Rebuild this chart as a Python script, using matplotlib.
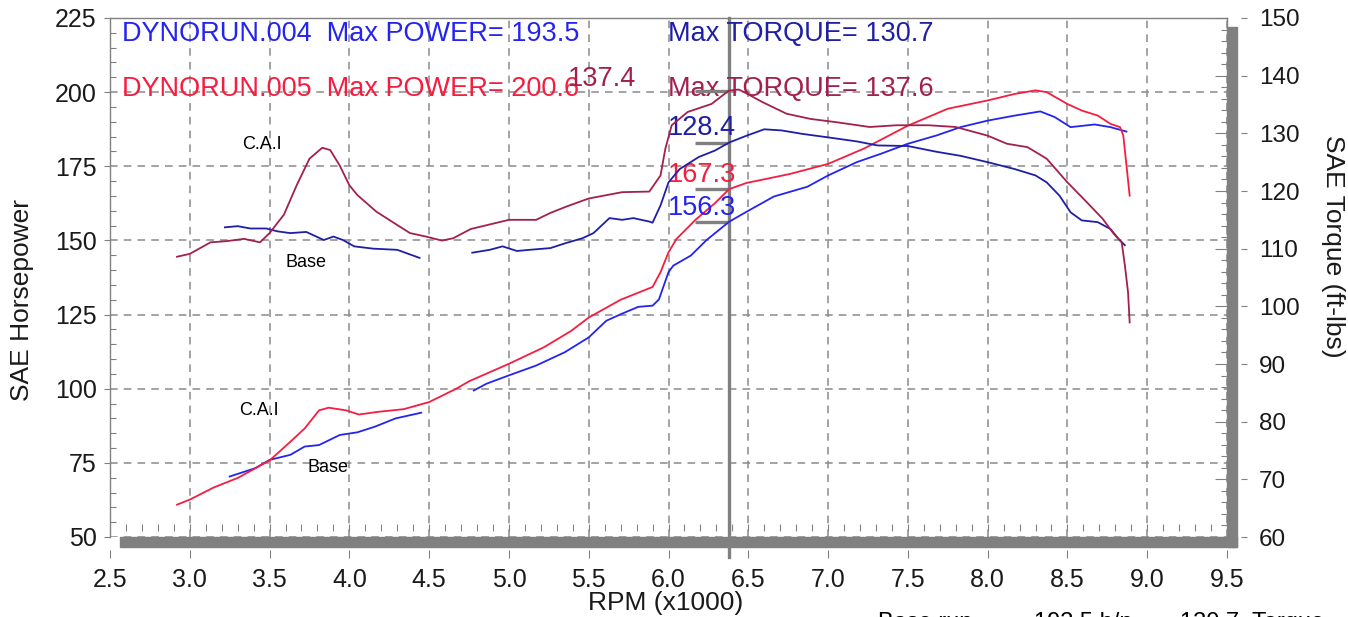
import numpy as np
import matplotlib
matplotlib.use("Agg")
import matplotlib.pyplot as plt
from matplotlib.ticker import MultipleLocator, FormatStrFormatter
from matplotlib.patches import Rectangle

plt.rcParams['font.family'] = ['Liberation Sans', 'DejaVu Sans']

# ---------------- data ----------------
# DYNORUN.005 (C.A.I) horsepower
cai_hp_rpm = [2.92, 3.00, 3.15, 3.30, 3.50, 3.63, 3.72, 3.81, 3.87, 3.98, 4.06, 4.18, 4.34, 4.50,
              4.67, 4.75, 5.00, 5.22, 5.39, 5.50, 5.70, 5.90, 5.95, 6.00, 6.05, 6.17, 6.29, 6.38,
              6.49, 6.59, 6.76, 7.00, 7.23, 7.50, 7.75, 8.00, 8.17, 8.30, 8.37, 8.50, 8.59, 8.69,
              8.77, 8.83, 8.85, 8.87, 8.89]
cai_hp = [60.9, 62.6, 66.7, 69.9, 75.8, 82.1, 86.6, 92.7, 93.6, 92.7, 91.3, 92.2, 93.1, 95.5,
          100.0, 102.5, 108.4, 114.0, 119.5, 124.0, 130.0, 134.3, 139.3, 146.0, 150.5, 157.0, 162.5, 167.3,
          169.4, 170.5, 172.4, 175.8, 181.1, 188.7, 194.4, 197.2, 199.4, 200.6, 200.0, 196.0, 193.8, 192.1,
          189.3, 188.2, 185.4, 175.3, 165.1]

# DYNORUN.004 (Base) horsepower (gap in the record around 4.6)
base_hp_rpm = [3.25, 3.41, 3.50, 3.63, 3.72, 3.81, 3.94, 4.05, 4.16, 4.29, 4.45, 4.60,
               4.78, 4.86, 5.00, 5.17, 5.35, 5.50, 5.61, 5.70, 5.81, 5.90, 5.94, 6.00, 6.03, 6.14,
               6.24, 6.38, 6.49, 6.66, 6.87, 7.00, 7.18, 7.33, 7.50, 7.68, 7.83, 8.00, 8.17, 8.33,
               8.42, 8.52, 8.62, 8.67, 8.77, 8.87]
base_hp = [70.4, 73.2, 76.0, 77.7, 80.5, 81.0, 84.4, 85.3, 87.2, 90.0, 91.9, np.nan,
           99.4, 101.7, 104.5, 107.8, 112.3, 117.3, 122.9, 125.1, 127.6, 128.0, 130.1, 139.3, 141.5, 144.9,
           150.2, 156.3, 159.7, 164.8, 168.1, 171.9, 176.4, 179.2, 182.6, 185.4, 188.2, 190.4, 192.1, 193.5,
           191.6, 188.2, 188.8, 189.1, 188.2, 186.7]

# DYNORUN.005 (C.A.I) torque
cai_tq_rpm = [2.92, 3.00, 3.13, 3.23, 3.34, 3.44, 3.50, 3.59, 3.67, 3.75, 3.83, 3.88, 3.94, 4.00,
              4.05, 4.17, 4.30, 4.38, 4.48, 4.58, 4.65, 4.76, 5.00, 5.17, 5.26, 5.36, 5.50, 5.71,
              5.88, 5.95, 5.98, 6.02, 6.12, 6.27, 6.34, 6.38, 6.44, 6.47, 6.59, 6.74, 6.89, 7.06,
              7.26, 7.43, 7.63, 7.80, 8.00, 8.12, 8.25, 8.37, 8.50, 8.62, 8.72, 8.79, 8.84, 8.86,
              8.88, 8.89]
cai_tq = [108.6, 109.1, 111.1, 111.3, 111.7, 111.1, 112.7, 115.9, 121.0, 125.6, 127.5, 127.1, 124.4, 121.0,
          119.3, 116.4, 114.1, 112.7, 112.1, 111.4, 111.8, 113.4, 115.0, 115.0, 116.2, 117.3, 118.7, 119.8,
          119.9, 122.7, 127.3, 131.4, 133.7, 135.1, 136.6, 137.4, 137.6, 137.2, 135.4, 133.4, 132.5, 131.9,
          131.1, 131.4, 131.4, 131.1, 129.6, 128.2, 127.6, 125.6, 121.5, 118.1, 115.2, 112.6, 111.1, 107.1,
          102.4, 97.2]

# DYNORUN.004 (Base) torque (gap around 4.6)
base_tq_rpm = [3.22, 3.30, 3.38, 3.48, 3.55, 3.63, 3.73, 3.84, 3.90, 3.96, 4.03, 4.15, 4.30, 4.44, 4.60,
               4.77, 4.88, 4.96, 5.05, 5.13, 5.26, 5.36, 5.46, 5.53, 5.63, 5.71, 5.78, 5.88, 5.90,
               5.95, 6.00, 6.07, 6.19, 6.29, 6.38, 6.49, 6.60, 6.71, 6.84, 7.00, 7.18, 7.31, 7.50,
               7.68, 7.83, 8.00, 8.17, 8.30, 8.37, 8.45, 8.52, 8.59, 8.69, 8.77, 8.82, 8.86]
base_tq = [113.7, 113.9, 113.5, 113.5, 113.0, 112.7, 112.9, 111.5, 112.1, 111.5, 110.4, 110.0, 109.8, 108.4, np.nan,
           109.3, 109.8, 110.4, 109.6, 109.8, 110.1, 111.0, 111.8, 112.7, 115.3, 115.0, 115.3, 114.7, 114.5,
           117.5, 121.5, 123.8, 125.9, 127.0, 128.4, 129.6, 130.7, 130.5, 129.9, 129.3, 128.6, 127.9, 127.8,
           126.8, 126.1, 125.0, 123.8, 122.7, 121.5, 119.2, 116.3, 114.9, 114.6, 113.4, 111.7, 110.6]

max_power_004, max_torque_004 = 193.5, 130.7
max_power_005, max_torque_005 = 200.6, 137.6
cursor_rpm = 6.38
cursor_hp_004, cursor_hp_005 = 156.3, 167.3
cursor_tq_004, cursor_tq_005 = 128.4, 137.4

x_ticks = np.arange(2.5, 9.51, 0.5)

# ---------------- styles ----------------
C_HP4 = '#2424f0'
C_TQ4 = '#1f1fa6'
C_HP5 = '#f51d40'
C_TQ5 = '#a3204e'
GRAY = '#808080'
TXT = '#1a1a1a'

W, H = 1348, 617
def fx(px):
    return px / W
def fy(py):
    return 1 - py / H

fig = plt.figure(figsize=(W / 100, H / 100), dpi=100)
fig.patch.set_facecolor('white')
ax = fig.add_axes([fx(110), fy(537), (1227 - 110) / W, (537 - 18) / H])
ax.set_xlim(2.5, 9.5)
ax.set_ylim(50, 225)
ax2 = ax.twinx()
ax2.set_ylim(60, 150)

# spines
for s in ['left', 'top']:
    ax.spines[s].set_color(GRAY)
    ax.spines[s].set_linewidth(1.0)
ax.spines['right'].set_visible(False)
ax.spines['bottom'].set_position(('outward', 9.5))
ax.spines['bottom'].set_visible(False)
for s in ['left', 'top', 'bottom']:
    ax2.spines[s].set_visible(False)
ax2.spines['right'].set_position(('outward', 10))
ax2.spines['right'].set_visible(False)

# x axis ticks
ax.set_xticks(x_ticks)
ax.xaxis.set_major_formatter(FormatStrFormatter('%.1f'))
ax.tick_params(axis='x', which='major', direction='out', length=6, width=0.8,
               color=GRAY, labelsize=18, labelcolor=TXT, pad=7)
secx = ax.secondary_xaxis(0.012)
secx.set_xticks(np.arange(2.6, 9.45, 0.1))
secx.tick_params(direction='in', length=5, width=0.8, color=GRAY, labelbottom=False, labeltop=False)
for s in secx.spines.values():
    s.set_visible(False)

# left y axis ticks
ax.yaxis.set_major_locator(MultipleLocator(25))
ax.yaxis.set_minor_locator(MultipleLocator(5))
ax.tick_params(axis='y', which='major', direction='out', length=4.5, width=0.8,
               color=GRAY, labelsize=18, labelcolor=TXT, pad=5)
ax.tick_params(axis='y', which='minor', direction='in', length=4.5, width=0.8, color=GRAY)

# right y axis ticks
ax2.yaxis.set_major_locator(MultipleLocator(10))
ax2.tick_params(axis='y', which='major', direction='out', length=4, width=0.8,
                color=GRAY, labelsize=17.5, labelcolor=TXT, pad=9)
secy = ax2.secondary_yaxis('right')
secy.yaxis.set_major_locator(MultipleLocator(10))
secy.yaxis.set_minor_locator(MultipleLocator(2))
secy.tick_params(which='major', direction='in', length=9, width=0.8, color=GRAY,
                 labelright=False, labelleft=False)
secy.tick_params(which='minor', direction='in', length=4.5, width=0.8, color=GRAY)
secy.spines['right'].set_color(GRAY)
secy.spines['right'].set_linewidth(1.0)

# grid
ax.grid(True, which='major', color='#8a8a8a', linestyle=(0, (5, 4)), linewidth=1.1)
ax.set_axisbelow(True)

# curves
ax.plot(base_hp_rpm, base_hp, color=C_HP4, lw=1.3, zorder=3)
ax.plot(cai_hp_rpm, cai_hp, color=C_HP5, lw=1.3, zorder=3)
ax2.plot(base_tq_rpm, base_tq, color=C_TQ4, lw=1.3, zorder=3)
ax2.plot(cai_tq_rpm, cai_tq, color=C_TQ5, lw=1.3, zorder=3)

# cursor and value markers
ax.axvline(cursor_rpm, ymin=-0.038, ymax=1.0, color=GRAY, lw=2.4, clip_on=False, zorder=2)
ax.hlines([cursor_hp_004, cursor_hp_005], 6.165, cursor_rpm, color=GRAY, lw=2.4, zorder=2)
ax2.hlines([cursor_tq_004, cursor_tq_005], 6.165, cursor_rpm, color=GRAY, lw=2.4, zorder=2)

# annotations
fs = 19.5
ax.text(2.575, 219.6, f"DYNORUN.004  Max POWER= {max_power_004}", color=C_HP4, fontsize=fs,
        ha='left', va='center', zorder=4)
ax.text(5.995, 219.6, f"Max TORQUE= {max_torque_004}", color=C_TQ4, fontsize=fs,
        ha='left', va='center', zorder=4)
ax.text(2.575, 201.0, f"DYNORUN.005  Max POWER= {max_power_005}", color=C_HP5, fontsize=fs,
        ha='left', va='center', zorder=4)
ax.text(5.995, 201.0, f"Max TORQUE= {max_torque_005}", color=C_TQ5, fontsize=fs,
        ha='left', va='center', zorder=4)
ax.text(5.37, 204.5, f"{cursor_tq_005}", color=C_TQ5, fontsize=fs, ha='left', va='center', zorder=4)
ax.text(5.995, 188.0, f"{cursor_tq_004}", color=C_TQ4, fontsize=fs, ha='left', va='center', zorder=4)
ax.text(5.995, 172.0, f"{cursor_hp_005}", color=C_HP5, fontsize=fs, ha='left', va='center', zorder=4)
ax.text(5.995, 160.8, f"{cursor_hp_004}", color=C_HP4, fontsize=fs, ha='left', va='center', zorder=4)

ax.text(3.33, 182.2, "C.A.I", color='black', fontsize=13, ha='left', va='center', zorder=4)
ax.text(3.60, 142.7, "Base", color='black', fontsize=13, ha='left', va='center', zorder=4)
ax.text(3.31, 92.8, "C.A.I", color='black', fontsize=13, ha='left', va='center', zorder=4)
ax.text(3.74, 73.6, "Base", color='black', fontsize=13, ha='left', va='center', zorder=4)

# axis titles
fig.text(fx(22), fy(300), "SAE Horsepower", rotation=90, fontsize=19, color=TXT,
         ha='center', va='center')
fig.text(fx(1333), fy(246), "SAE Torque (ft-lbs)", rotation=270, fontsize=19, color=TXT,
         ha='center', va='center')
fig.text(fx(666), fy(603), "RPM (x1000)", fontsize=19, color=TXT, ha='center', va='center')

# partially visible caption at the bottom (cut by the image edge, as in the reference)
cap_fs = 17
fig.text(fx(878), fy(629), "Base run", fontsize=cap_fs, color='black', ha='left', va='baseline')
fig.text(fx(1034), fy(629), f"{max_power_004} h/p", fontsize=cap_fs, color='black', ha='left', va='baseline')
fig.text(fx(1180), fy(629), f"{max_torque_004}  Torque", fontsize=cap_fs, color='black', ha='left', va='baseline')

# 3D shadow bars of the frame
fig.add_artist(Rectangle((fx(120), fy(547)), (1237 - 120) / W, 10 / H,
                         transform=fig.transFigure, color=GRAY, zorder=5))
fig.add_artist(Rectangle((fx(1228), fy(547)), 9 / W, (547 - 27) / H,
                         transform=fig.transFigure, color=GRAY, zorder=5))

fig.savefig('out.png', dpi=100, facecolor='white')
